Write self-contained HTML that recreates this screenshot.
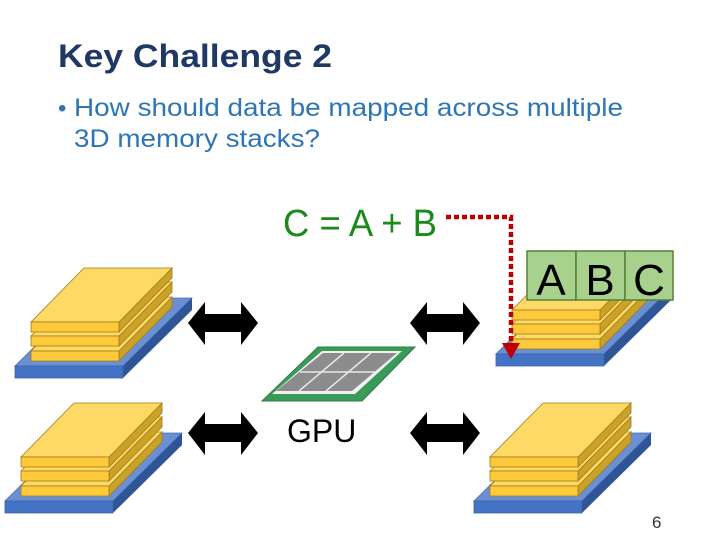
<!DOCTYPE html>
<html><head><meta charset="utf-8"><style>
html,body{margin:0;padding:0;background:#fff;width:720px;height:540px;overflow:hidden}
svg{display:block}
text{font-family:"Liberation Sans",sans-serif}
</style></head><body>
<svg width="720" height="540" viewBox="0 0 720 540" xmlns="http://www.w3.org/2000/svg">
<defs>
<g id="stk">
  <polygon points="15,366 123,366 192,298 84,298" fill="#6a8fd2" stroke="#4a6fb0" stroke-width="0.8"/>
  <polygon points="123,366 192,298 192,310 123,378" fill="#2f5597"/>
  <rect x="15" y="366" width="108" height="12" fill="#4472c4" stroke="#3a62aa" stroke-width="0.8"/>
  <g stroke="#a07c1a" stroke-width="0.8">
  <polygon points="119,351 172,297 172,307 119,361" fill="#c9a227"/>
  <polygon points="31,351 119,351 172,297 84,297" fill="#ffd966"/>
  <rect x="31" y="351" width="88" height="10" fill="#ffc93c"/>
  <polygon points="119,336 172,282 172,292 119,346" fill="#c9a227"/>
  <polygon points="31,336 119,336 172,282 84,282" fill="#ffd966"/>
  <rect x="31" y="336" width="88" height="10" fill="#ffc93c"/>
  <polygon points="119,322 172,268 172,278 119,332" fill="#c9a227"/>
  <polygon points="31,322 119,322 172,268 84,268" fill="#ffd966"/>
  <rect x="31" y="322" width="88" height="10" fill="#ffc93c"/>
  </g>
</g>
<polygon id="arr" points="0,21 17,0 17,12 53,12 53,0 70,21 53,43 53,30 17,30 17,43" fill="#000"/>
</defs>

<text x="58" y="67" font-size="32" font-weight="bold" fill="#1f3864" textLength="274" lengthAdjust="spacingAndGlyphs">Key Challenge 2</text>
<text x="58" y="116" font-size="24" fill="#2e75b6">•</text>
<text x="74" y="116" font-size="25" fill="#2e75b6" textLength="549" lengthAdjust="spacingAndGlyphs">How should data be mapped across multiple</text>
<text x="74" y="147" font-size="25" fill="#2e75b6" textLength="246" lengthAdjust="spacingAndGlyphs">3D memory stacks?</text>

<use href="#stk"/>
<use href="#stk" transform="translate(-10,135)"/>
<use href="#stk" transform="translate(481,-12)"/>
<use href="#stk" transform="translate(459,135)"/>

<use href="#arr" transform="translate(188,302)"/>
<use href="#arr" transform="translate(410,302)"/>
<use href="#arr" transform="translate(188,412)"/>
<use href="#arr" transform="translate(410,412)"/>

<polygon points="262,401 362,401 415,347 318,347" fill="#3a9a5a" stroke="#2e7d46" stroke-width="1"/>
<polygon points="272,394 355,394 402,351 322,351" fill="#f0f0f0"/>
<polygon points="276,391 352,391 397,353 323,353" fill="#8c8c8c"/>
<g stroke="#e8e8e8" stroke-width="1.5">
<line x1="300" y1="372" x2="375" y2="372"/>
<line x1="299" y1="391" x2="344" y2="353"/>
<line x1="326" y1="391" x2="371" y2="353"/>
</g>

<text x="287" y="442" font-size="32" fill="#000">GPU</text>

<text x="283" y="236" font-size="38" fill="#1a8a1a" textLength="154" lengthAdjust="spacingAndGlyphs">C = A + B</text>

<polyline points="446,217 511,217 511,347" fill="none" stroke="#c00000" stroke-width="4.5" stroke-dasharray="5,3"/>
<polygon points="502,343 520,343 511,359" fill="#c00000"/>

<g stroke="#538135" stroke-width="1.5" fill="#a9d18e">
<rect x="527" y="251" width="49" height="49"/>
<rect x="576" y="251" width="49" height="49"/>
<rect x="625" y="251" width="48" height="49"/>
</g>
<g font-size="44" fill="#000" text-anchor="middle">
<text x="551" y="295">A</text>
<text x="600" y="295">B</text>
<text x="649" y="295">C</text>
</g>

<text x="652" y="528" font-size="17" fill="#333">6</text>
</svg>
</body></html>
